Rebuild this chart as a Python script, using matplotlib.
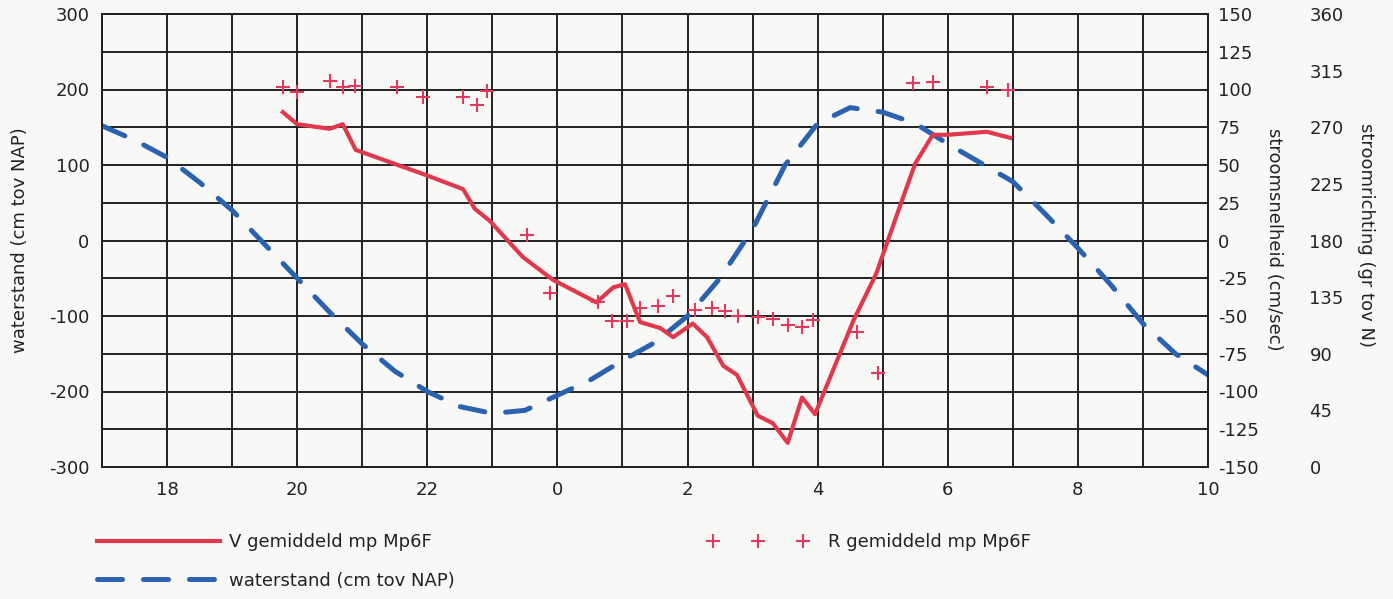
import matplotlib
matplotlib.use('Agg')
import matplotlib.pyplot as plt
from matplotlib.ticker import MultipleLocator, FixedLocator
from matplotlib.legend_handler import HandlerLine2D

plt.rcParams['font.family'] = ['DejaVu Sans']
plt.rcParams['axes.unicode_minus'] = False

# time in hours since midnight of day 1 (24 = 0h next day)
tide_t = [17, 17.5, 18, 18.5, 19, 19.5, 20, 20.5, 21, 21.5, 22, 22.5, 23, 23.5,
          24, 24.5, 25, 25.5, 26, 26.5, 27, 27.5, 28, 28.5, 29, 29.5, 30, 30.5,
          31, 31.5, 32, 32.5, 33, 33.5, 34]
tide_h = [152, 133, 110, 77, 40, -5, -50, -95, -137, -173, -200, -220, -229, -225,
          -205, -185, -159, -135, -100, -50, 15, 100, 155, 176, 170, 155, 128, 103,
          78, 35, -10, -58, -110, -150, -178]

v_t = [19.78, 20.0, 20.5, 20.7, 20.9, 22.0, 22.55, 22.73, 22.96, 23.47, 23.93,
       24.6, 24.86, 25.04, 25.27, 25.58, 25.78, 26.08, 26.3, 26.55, 26.76, 26.96,
       27.08, 27.31, 27.54, 27.76, 27.96, 28.55, 28.9, 29.3, 29.5, 29.77, 30.0,
       30.6, 30.96]
v_cms = [85, 77, 74, 77, 60, 43, 34, 21, 13, -11, -26,
         -41, -31, -29, -54, -58, -64, -55, -64, -83, -89, -106,
         -116, -121, -134, -104, -115, -53, -22, 27, 51, 70, 70,
         72, 68]

r_t = [19.78, 20.0, 20.5, 20.7, 20.89, 21.53, 21.93, 22.55, 22.76, 22.92, 23.53,
       23.89, 24.63, 24.84, 25.07, 25.27, 25.55, 25.78, 26.11, 26.37, 26.58, 26.78,
       27.08, 27.31, 27.54, 27.76, 27.93, 28.6, 28.93, 29.47, 29.77, 30.6, 30.92]
r_deg = [302, 298, 307, 302, 303, 302, 294, 294, 288, 299, 184,
         138, 131, 116, 116, 126, 128, 136, 125, 126, 124, 120,
         119, 118, 113, 111, 117, 107, 75, 305, 306, 302, 300]

x_ticks = [18, 20, 22, 24, 26, 28, 30, 32, 34]
x_labels = ['18', '20', '22', '0', '2', '4', '6', '8', '10']

red = '#e0384c'
blue = '#2b62b0'
cross = '#e23a5e'
bg = '#f8f8f6'
ink = '#222222'
fs = 13

fig = plt.figure(figsize=(13.93, 5.99), dpi=100, facecolor=bg)
ax = fig.add_axes([102 / 1393, 132 / 599, 1106 / 1393, 453 / 599])
ax.set_facecolor(bg)
ax2 = ax.twinx()
ax3 = ax.twinx()

ax.set_xlim(17, 34)
ax.set_ylim(-300, 300)
ax2.set_ylim(-150, 150)
ax3.set_ylim(0, 360)

ax.xaxis.set_major_locator(FixedLocator(x_ticks))
ax.set_xticklabels(x_labels)
ax.xaxis.set_minor_locator(MultipleLocator(1))
ax.yaxis.set_major_locator(MultipleLocator(100))
ax.yaxis.set_minor_locator(MultipleLocator(50))
ax.grid(True, which='both', color=ink, lw=1.4)
ax.set_axisbelow(True)
ax.tick_params(which='both', length=0, labelsize=fs, colors=ink)
ax.tick_params(axis='x', pad=10)
ax.tick_params(axis='y', pad=9)

ax2.yaxis.set_major_locator(MultipleLocator(25))
ax2.tick_params(length=0, labelsize=fs, pad=7, colors=ink)
ax3.yaxis.set_major_locator(MultipleLocator(45))
ax3.tick_params(length=0, labelsize=fs, pad=73, colors=ink)
for a in (ax, ax2, ax3):
    for s in a.spines.values():
        s.set_color(ink)
        s.set_linewidth(1.4)
ax3.spines['right'].set_visible(False)

ax.plot(tide_t, tide_h, color=blue, lw=3.6, dashes=(5.0, 4.2), dash_capstyle='round',
        label='waterstand (cm tov NAP)', zorder=3)
ax2.plot(v_t, v_cms, color=red, lw=3.0, solid_joinstyle='round',
         label='V gemiddeld mp Mp6F', zorder=3)
ax3.plot(r_t, r_deg, linestyle='none', marker='+', ms=10, mew=1.5, color=cross,
         label='R gemiddeld mp Mp6F', zorder=3)

fig.text(20 / 1393, 1 - 240 / 599, 'waterstand (cm tov NAP)', rotation=90,
         ha='center', va='center', fontsize=fs, color=ink)
fig.text(1274 / 1393, 1 - 239 / 599, 'stroomsnelheid (cm/sec)', rotation=270,
         ha='center', va='center', fontsize=fs, color=ink)
fig.text(1366 / 1393, 1 - 235 / 599, 'stroomrichting (gr tov N)', rotation=270,
         ha='center', va='center', fontsize=fs, color=ink)

handles = [ax2.lines[0], ax.lines[0], ax3.lines[0]]
leg = fig.legend(handles, [h.get_label() for h in handles], ncol=2, frameon=False,
                 loc='upper left', bbox_to_anchor=(97 / 1393, 1 - 533 / 599),
                 fontsize=fs, handlelength=6.8, columnspacing=13.4,
                 labelspacing=1.15, handletextpad=0.5, borderpad=0, borderaxespad=0,
                 handler_map={ax3.lines[0]: HandlerLine2D(numpoints=3, marker_pad=0.9)})
for t in leg.get_texts():
    t.set_color(ink)

fig.savefig('out.png', dpi=100, facecolor=bg)
